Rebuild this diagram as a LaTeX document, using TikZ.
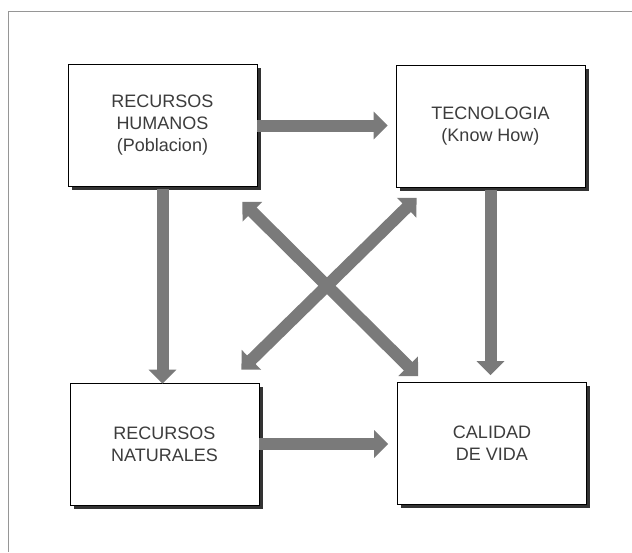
\documentclass[tikz,border=0pt]{standalone}
\usepackage{fontspec}
\setmainfont{Liberation Sans}
\usetikzlibrary{arrows.meta,shadows,calc}
\definecolor{arrowgray}{RGB}{122,122,122}
\definecolor{textgray}{RGB}{60,60,60}
\definecolor{framegray}{RGB}{150,150,150}
\begin{document}
\begin{tikzpicture}[x=1pt,y=-1pt,
  box/.style={draw=black, line width=0.8pt, fill=white, minimum width=189pt, minimum height=122pt,
    align=center, text=textgray, font=\fontsize{18}{22}\selectfont,
    drop shadow={shadow xshift=3.5pt, shadow yshift=-3.5pt, fill=black!80, opacity=1}},
  fat/.style={draw=arrowgray, line width=12pt, -{Triangle[width=27pt,length=14pt]}},
  fatboth/.style={draw=arrowgray, line width=12pt, {Triangle[width=27pt,length=14pt]}-{Triangle[width=27pt,length=14pt]}}]
\useasboundingbox (0,0) rectangle (632,552);
\fill[white] (0,0) rectangle (632,552);
\draw[framegray, line width=1pt] (632,11) -- (8,11) -- (8,552);
\node[box] (tl) at (162.5,125.5) {RECURSOS\\HUMANOS\\(Poblacion)};
\node[box] (tr) at (490.5,126.5) {TECNOLOGIA\\(Know How)};
\node[box] (bl) at (164.5,444) {RECURSOS\\NATURALES};
\node[box] (br) at (492,443.5) {CALIDAD\\DE VIDA};
% straight arrows
\draw[fat, shorten >=8pt] (tl.east) -- (tl.east -| tr.west);
\draw[fat, shorten >=9pt] (bl.east) -- (bl.east -| br.west);
\draw[fat, shorten <=2pt, shorten >=-1pt] (tl.south) -- (tl.south |- bl.north);
\draw[fat, shorten <=2pt, shorten >=7pt] (tr.south) -- (tr.south |- br.north);
% diagonals
\coordinate (d1) at ($(tl.south east)+(-15,15)$);
\coordinate (d2) at ($(br.north west)+(21,-6)$);
\coordinate (d3) at ($(tr.north west |- tr.south)+(21,10)$);
\coordinate (d4) at ($(bl.north east)+(-18,-13)$);
\draw[fatboth] (d1) -- (d2);
\draw[fatboth] (d3) -- (d4);
\end{tikzpicture}
\end{document}
